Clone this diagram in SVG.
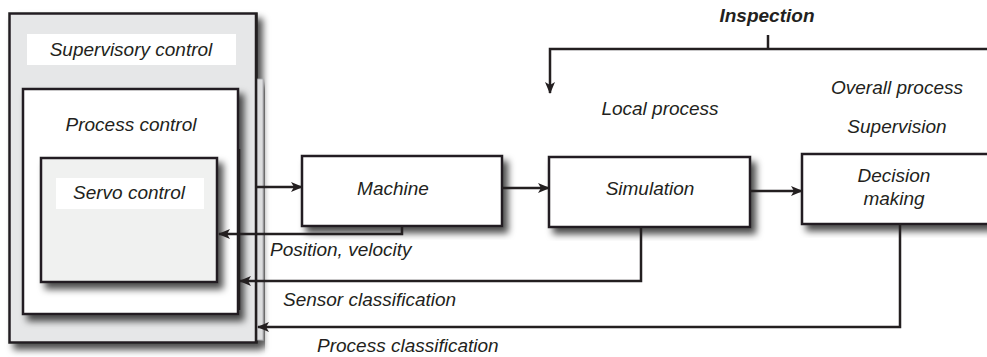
<svg xmlns="http://www.w3.org/2000/svg" width="987" height="357" viewBox="0 0 987 357">
  <style>
    .box { stroke: #231f20; stroke-width: 2.5; }
    .lbl { font-family: "Liberation Sans", Arial, sans-serif; font-style: italic; font-size: 19px; fill: #231f20; }
    .mid { text-anchor: middle; }
    .bold { font-weight: bold; }
    .wire { fill: none; stroke: #231f20; stroke-width: 2.5; }
  </style>
  <defs>
    <filter id="shadow" x="-10%" y="-10%" width="130%" height="130%">
      <feDropShadow dx="5" dy="6" stdDeviation="3.5" flood-color="#000" flood-opacity="0.7"/>
    </filter>
    <marker id="arrow" markerWidth="12" markerHeight="10" refX="11" refY="5" orient="auto" markerUnits="userSpaceOnUse">
      <path d="M0,0 L12,5 L0,10 L3,5 Z" fill="#231f20"/>
    </marker>
  </defs>

  <!-- Supervisory control (outer frame) -->
  <g id="supervisory">
    <rect class="box" x="9.5" y="13.5" width="247" height="329" fill="#e6e7e8" filter="url(#shadow)"/>
    <rect x="27" y="34" width="209" height="31" fill="#ffffff"/>
    <text class="lbl mid" x="131" y="56">Supervisory control</text>
  </g>

  <!-- Process control -->
  <g id="process-control">
    <rect class="box" x="23" y="89" width="215" height="225" fill="#ffffff" filter="url(#shadow)"/>
    <text class="lbl mid" x="131" y="131">Process control</text>
  </g>

  <!-- Servo control -->
  <g id="servo-control">
    <rect class="box" x="41" y="158" width="176" height="124" fill="#f0f1f0" filter="url(#shadow)"/>
    <rect x="56" y="178" width="148" height="31" fill="#ffffff"/>
    <text class="lbl mid" x="129" y="199">Servo control</text>
  </g>

  <!-- Machine -->
  <g id="machine">
    <rect class="box" x="302" y="156" width="200" height="70" fill="#ffffff" filter="url(#shadow)"/>
    <text class="lbl mid" x="393" y="195">Machine</text>
  </g>

  <!-- Simulation -->
  <g id="simulation">
    <rect class="box" x="549" y="157" width="201" height="70" fill="#ffffff" filter="url(#shadow)"/>
    <text class="lbl mid" x="650" y="195">Simulation</text>
  </g>

  <!-- Decision making -->
  <g id="decision">
    <rect class="box" x="802" y="154" width="195" height="70" fill="#ffffff" filter="url(#shadow)"/>
    <text class="lbl mid" x="894" y="182">Decision</text>
    <text class="lbl mid" x="894" y="205">making</text>
  </g>

  <!-- Free-standing labels -->
  <g id="labels">
    <text class="lbl mid bold" x="767" y="22">Inspection</text>
    <text class="lbl mid" x="660" y="115">Local process</text>
    <text class="lbl mid" x="897" y="94">Overall process</text>
    <text class="lbl mid" x="897" y="133">Supervision</text>
    <text class="lbl" x="270" y="256">Position, velocity</text>
    <text class="lbl" x="283" y="306">Sensor classification</text>
    <text class="lbl" x="317" y="352">Process classification</text>
  </g>

  <!-- Connectors -->
  <g id="connectors">
    <!-- bus bars along the control frames -->
    <rect x="257" y="79" width="6" height="261" fill="#dcddde" stroke="#a7a9ac" stroke-width="0.8" filter="url(#shadow)"/>
    <line x1="256" y1="13" x2="256" y2="343" stroke="#231f20" stroke-width="2.5"/>
    <line x1="239" y1="149" x2="239" y2="310" stroke="#231f20" stroke-width="2.5"/>

    <path class="wire" d="M257,187 H302" marker-end="url(#arrow)"/>
    <path class="wire" d="M502,188 H549" marker-end="url(#arrow)"/>
    <path class="wire" d="M750,191 H802" marker-end="url(#arrow)"/>

    <path class="wire" d="M402,226 V234 H219" marker-end="url(#arrow)"/>
    <path class="wire" d="M641,227 V281 H240" marker-end="url(#arrow)"/>
    <path class="wire" d="M900,224 V327 H258" marker-end="url(#arrow)"/>

    <path class="wire" d="M768,35 V49"/>
    <path class="wire" d="M990,49 H550 V93" marker-end="url(#arrow)"/>
  </g>
</svg>
